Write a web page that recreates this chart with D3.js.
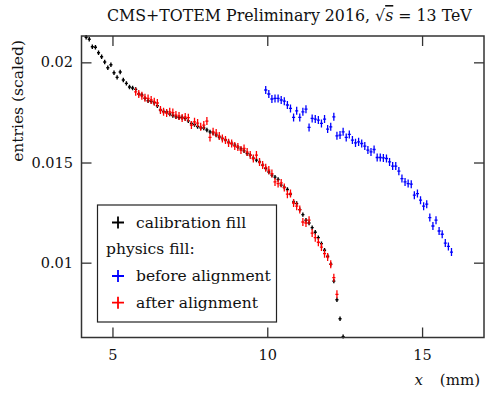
<!DOCTYPE html>
<html>
<head>
<meta charset="utf-8">
<script src="https://cdn.jsdelivr.net/npm/d3@7"></script>
<style>
    body { margin: 0; background: #fff; }
    svg { display: block; }
    text { font-family: "DejaVu Serif", "Liberation Serif", serif; fill: #111; }
</style>
</head>
<body>
<div id="chart"></div>
<script>
// histogram bins of 0.1 mm
const binWidth = 0.1;
const calibStart = 4.15;
const calibValues = [
    0.02125, 0.02115, 0.02078, 0.02075, 0.02048, 0.02028, 0.02002, 0.01973, 0.01988, 0.01948,
    0.01925, 0.01952, 0.01912, 0.01895, 0.01877, 0.01872, 0.01865, 0.01842, 0.01837, 0.01820,
    0.01808, 0.01805, 0.01798, 0.01783, 0.01762, 0.01755, 0.01752, 0.01742, 0.01735, 0.01728,
    0.01725, 0.01725, 0.01720, 0.01708, 0.01695, 0.01690, 0.01680, 0.01673, 0.01672, 0.01662,
    0.01653, 0.01648, 0.01637, 0.01627, 0.01620, 0.01612, 0.01602, 0.01595, 0.01587, 0.01577,
    0.01568, 0.01558, 0.01545, 0.01537, 0.01522, 0.01512, 0.01503, 0.01487, 0.01470, 0.01453,
    0.01437, 0.01427, 0.01415, 0.01387, 0.01377, 0.01365, 0.01342, 0.01303, 0.01295, 0.01265,
    0.01240, 0.01212, 0.01198, 0.01175, 0.01152, 0.01125, 0.01095, 0.01062, 0.01032, 0.00992,
    0.00908, 0.00815, 0.00720, 0.00630
];
const afterStart = 5.75;
const afterValues = [
    0.01853, 0.01842, 0.01833, 0.01823, 0.01820, 0.01812, 0.01803, 0.01797, 0.01762, 0.01753,
    0.01747, 0.01753, 0.01749, 0.01737, 0.01732, 0.01722, 0.01727, 0.01724, 0.01687, 0.01703,
    0.01697, 0.01678, 0.01687, 0.01707, 0.01625, 0.01653, 0.01647, 0.01632, 0.01620, 0.01612,
    0.01598, 0.01595, 0.01582, 0.01578, 0.01562, 0.01570, 0.01552, 0.01537, 0.01520, 0.01537,
    0.01502, 0.01487, 0.01474, 0.01462, 0.01445, 0.01403, 0.01395, 0.01398, 0.01375, 0.01342,
    0.01345, 0.01298, 0.01282, 0.01265, 0.01203, 0.01198, 0.01212, 0.01148, 0.01125, 0.01102,
    0.01078, 0.01045, 0.01028, 0.00992, 0.00925, 0.00842
];
const beforeStart = 9.95;
const beforeValues = [
    0.01862, 0.01842, 0.01817, 0.01820, 0.01820, 0.01812, 0.01806, 0.01787, 0.01770, 0.01725,
    0.01758, 0.01725, 0.01753, 0.01766, 0.01675, 0.01720, 0.01717, 0.01712, 0.01695, 0.01717,
    0.01667, 0.01678, 0.01728, 0.01633, 0.01637, 0.01653, 0.01625, 0.01640, 0.01612, 0.01598,
    0.01603, 0.01595, 0.01582, 0.01562, 0.01553, 0.01565, 0.01525, 0.01525, 0.01523, 0.01520,
    0.01503, 0.01482, 0.01482, 0.01457, 0.01420, 0.01403, 0.01395, 0.01392, 0.01337, 0.01345,
    0.01312, 0.01282, 0.01292, 0.01225, 0.01183, 0.01212, 0.01158, 0.01142, 0.01098, 0.01081,
    0.01053
];
// statistical uncertainties (approx.)
const calibErr = 0.00011;
const physErr = 0.0002;

const xTicks = [5, 10, 15];
const yTicks = [0.01, 0.015, 0.02];

const totalWidth = 490, totalHeight = 396;
const margin = { top: 36, right: 6, bottom: 58.5, left: 81.5 };
const width = totalWidth - margin.left - margin.right;
const height = totalHeight - margin.top - margin.bottom;

const svg = d3.select("#chart").append("svg")
    .attr("width", totalWidth)
    .attr("height", totalHeight);

const g = svg.append("g")
    .attr("transform", `translate(${margin.left},${margin.top})`);

const x = d3.scaleLinear().domain([4, 17]).range([0, width]);
const y = d3.scaleLinear().domain([0.006265, 0.021315]).range([height, 0]);

function toPoints(start, values) {
    return values.map((v, i) => ({ x: start + i * binWidth, y: v }));
}

// cross = horizontal bin bar + vertical error bar
function crossPath(d, err) {
    const hw = binWidth * 0.5;
    return `M${x(d.x - hw)},${y(d.y)}H${x(d.x + hw)}M${x(d.x)},${y(d.y - err)}V${y(d.y + err)}`;
}

g.append("clipPath").attr("id", "plot-clip")
    .append("rect").attr("x", 0).attr("y", -1).attr("width", width).attr("height", height + 2);

const series = [
    { name: "calib", color: "#000000", err: calibErr, width: 1.4, data: toPoints(calibStart, calibValues) },
    { name: "before", color: "#0000ff", err: physErr, width: 1.3, data: toPoints(beforeStart, beforeValues) },
    { name: "after", color: "#ff0000", err: physErr, width: 1.3, data: toPoints(afterStart, afterValues) }
];

const marks = g.append("g").attr("clip-path", "url(#plot-clip)");
series.forEach(s => {
    marks.append("g")
        .attr("class", "series-" + s.name)
        .selectAll("path")
        .data(s.data)
        .enter()
        .append("path")
        .attr("d", d => crossPath(d, s.err))
        .attr("stroke", s.color)
        .attr("stroke-width", s.width)
        .attr("fill", "none");
});

// axes, ticks pointing inwards on all four sides
const tickLen = 10;
const frameColor = "#333";

const xAxis = g.append("g")
    .attr("transform", `translate(0,${height})`)
    .call(d3.axisBottom(x).tickValues(xTicks).tickSizeInner(-tickLen).tickSizeOuter(0).tickPadding(12).tickFormat(d3.format("d")));
const xAxisTop = g.append("g")
    .call(d3.axisTop(x).tickValues(xTicks).tickSizeInner(-tickLen).tickSizeOuter(0).tickFormat(""));
const yAxis = g.append("g")
    .call(d3.axisLeft(y).tickValues(yTicks).tickSizeInner(-tickLen).tickSizeOuter(0).tickPadding(8.5).tickFormat(d => d3.format("")(+d.toFixed(3))));
const yAxisRight = g.append("g")
    .attr("transform", `translate(${width},0)`)
    .call(d3.axisRight(y).tickValues(yTicks).tickSizeInner(-tickLen).tickSizeOuter(0).tickFormat(""));

[xAxis, xAxisTop, yAxis, yAxisRight].forEach(a => {
    a.select(".domain").remove();
    a.selectAll(".tick line").attr("stroke", frameColor).attr("stroke-width", 1.3);
    a.selectAll(".tick text")
        .attr("font-size", 14.5)
        .attr("fill", "#111");
});

g.append("rect")
    .attr("width", width)
    .attr("height", height)
    .attr("fill", "none")
    .attr("stroke", frameColor)
    .attr("stroke-width", 1.5);

// title
const title = svg.append("text")
    .attr("x", 107)
    .attr("y", 21)
    .attr("font-size", 15.8);
title.append("tspan").text("CMS+TOTEM Preliminary 2016, ");
title.append("tspan").text("\u221A");
title.append("tspan").text("s").attr("font-style", "italic").style("text-decoration", "overline");
title.append("tspan").text(" = 13 TeV");

// axis titles
svg.append("text")
    .attr("transform", "translate(23,40) rotate(-90)")
    .attr("text-anchor", "end")
    .attr("font-size", 15.5)
    .text("entries (scaled)");

const xLabel = svg.append("text")
    .attr("x", 480)
    .attr("y", 385)
    .attr("text-anchor", "end")
    .attr("font-size", 15);
xLabel.append("tspan").attr("font-style", "italic").text("x");
xLabel.append("tspan").attr("dx", 17).text("(mm)");

// legend
const legend = svg.append("g").attr("class", "legend");
legend.append("rect")
    .attr("x", 97.5)
    .attr("y", 205)
    .attr("width", 179)
    .attr("height", 117)
    .attr("fill", "#fff")
    .attr("stroke", "#222")
    .attr("stroke-width", 1.2);

const legendRows = [
    { label: "calibration fill", color: "#000000", marker: true, y: 227.5 },
    { label: "physics fill:", color: null, marker: false, y: 254 },
    { label: "before alignment", color: "#0000ff", marker: true, y: 281 },
    { label: "after alignment", color: "#ff0000", marker: true, y: 307.7 }
];
legendRows.forEach(r => {
    if (r.marker) {
        const cy = r.y - 5;
        legend.append("path")
            .attr("d", `M112,${cy}H124M118,${cy - 6}V${cy + 6}`)
            .attr("stroke", r.color)
            .attr("stroke-width", 1.8)
            .attr("fill", "none");
    }
    legend.append("text")
        .attr("x", r.marker ? 136 : 106)
        .attr("y", r.y)
        .attr("font-size", 15.5)
        .text(r.label);
});
</script>
</body>
</html>
